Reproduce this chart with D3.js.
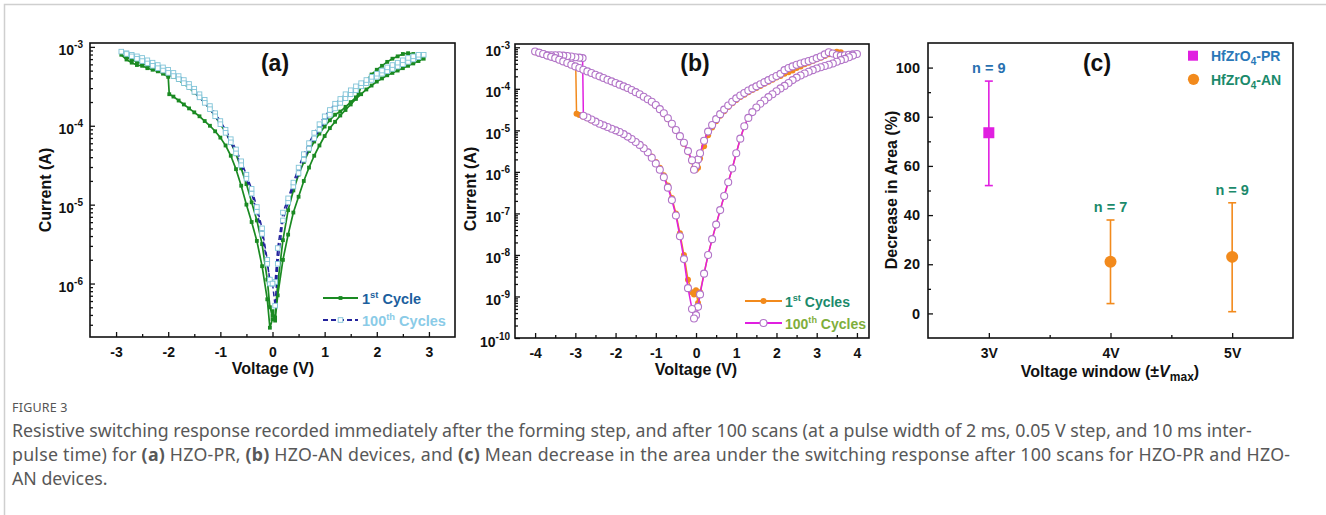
<!DOCTYPE html>
<html>
<head>
	<meta charset="utf-8">
	<title>Figure 3</title>
	<script src="https://cdn.jsdelivr.net/npm/d3@7"></script>
	<style>
		body { margin: 0; background: #fff; }
		svg { display: block; font-family: Arial, "Liberation Sans", sans-serif; }
	</style>
</head>
<body>
<div id="chart"></div>
<script>

	// data : sweeps are [voltage (V), log10 current (A)] in measured order

	// (a) HZO-PR, 1st cycle
	const prFirst = [
		[0,-6.35],[0.05,-6.47],[0.1,-6.15],[0.2,-5.7],[0.3,-5.38],[0.4,-5.1],[0.5,-4.9],[0.6,-4.7],[0.7,-4.53],[0.8,-4.38],
		[0.9,-4.25],[1.0,-4.13],[1.1,-4.03],[1.2,-3.95],[1.3,-3.87],[1.4,-3.8],[1.5,-3.73],[1.6,-3.66],[1.7,-3.6],[1.8,-3.54],
		[1.9,-3.49],[2.0,-3.44],[2.1,-3.4],[2.2,-3.36],[2.3,-3.33],[2.4,-3.3],[2.5,-3.27],[2.6,-3.24],[2.7,-3.21],[2.8,-3.18],[2.9,-3.15],
		[2.8,-3.12],[2.7,-3.09],[2.6,-3.08],[2.5,-3.09],[2.4,-3.12],[2.3,-3.15],[2.2,-3.19],[2.1,-3.24],[2.0,-3.29],[1.9,-3.35],
		[1.8,-3.42],[1.7,-3.5],[1.65,-3.6],[1.6,-3.64],[1.5,-3.7],[1.4,-3.76],[1.3,-3.82],[1.2,-3.86],[1.1,-3.93],[1.0,-4.01],
		[0.9,-4.1],[0.8,-4.2],[0.7,-4.32],[0.6,-4.46],[0.5,-4.62],[0.4,-4.82],[0.3,-5.07],[0.2,-5.45],[0.1,-6.0],[0.05,-6.43],[0,-6.4],
		[-0.05,-6.3],[-0.1,-5.95],[-0.2,-5.5],[-0.3,-5.2],[-0.4,-4.97],[-0.5,-4.74],[-0.6,-4.54],[-0.7,-4.36],[-0.8,-4.21],[-0.9,-4.08],
		[-1.0,-3.98],[-1.1,-3.88],[-1.2,-3.79],[-1.3,-3.71],[-1.4,-3.64],[-1.5,-3.58],[-1.6,-3.52],[-1.7,-3.47],[-1.8,-3.42],[-1.9,-3.38],
		[-2.0,-3.35],[-2.1,-3.32],[-2.2,-3.29],[-2.3,-3.26],[-2.4,-3.24],[-2.5,-3.21],[-2.6,-3.19],[-2.7,-3.16],[-2.8,-3.13],[-2.9,-3.1],
		[-2.8,-3.16],[-2.7,-3.2],[-2.6,-3.23],[-2.5,-3.24],[-2.4,-3.27],[-2.3,-3.29],[-2.2,-3.31],[-2.1,-3.34],[-2.0,-3.38],[-1.98,-3.6],
		[-1.9,-3.63],[-1.8,-3.68],[-1.7,-3.73],[-1.6,-3.78],[-1.5,-3.83],[-1.4,-3.88],[-1.3,-3.94],[-1.2,-4.0],[-1.1,-4.07],[-1.0,-4.15],
		[-0.9,-4.25],[-0.8,-4.38],[-0.7,-4.55],[-0.6,-4.76],[-0.5,-5.0],[-0.4,-5.22],[-0.3,-5.46],[-0.2,-5.78],[-0.1,-6.2],[-0.05,-6.56],[0,-6.45]
	];

	// (a) HZO-PR, 100th cycle
	const pr100 = [
		[0,-6.0],[0.05,-6.28],[0.1,-5.75],[0.2,-5.2],[0.3,-4.97],[0.4,-4.77],[0.5,-4.6],[0.6,-4.43],[0.7,-4.29],[0.8,-4.16],
		[0.9,-4.05],[1.0,-3.95],[1.1,-3.86],[1.2,-3.78],[1.3,-3.71],[1.4,-3.65],[1.5,-3.6],[1.6,-3.55],[1.7,-3.5],[1.8,-3.46],
		[1.9,-3.42],[2.0,-3.38],[2.1,-3.34],[2.2,-3.31],[2.3,-3.28],[2.4,-3.25],[2.5,-3.22],[2.6,-3.19],[2.7,-3.16],[2.8,-3.13],[2.9,-3.1],
		[2.8,-3.1],[2.7,-3.12],[2.6,-3.14],[2.5,-3.17],[2.4,-3.2],[2.3,-3.23],[2.2,-3.26],[2.1,-3.3],[2.0,-3.34],[1.9,-3.38],
		[1.8,-3.42],[1.7,-3.46],[1.6,-3.5],[1.5,-3.55],[1.4,-3.6],[1.3,-3.66],[1.2,-3.72],[1.1,-3.8],[1.0,-3.88],[0.9,-3.98],
		[0.8,-4.09],[0.7,-4.22],[0.6,-4.36],[0.5,-4.53],[0.4,-4.72],[0.3,-4.92],[0.2,-5.1],[0.1,-5.55],[0.05,-5.98],[0,-6.0],
		[-0.05,-6.0],[-0.1,-5.7],[-0.2,-5.3],[-0.3,-5.03],[-0.4,-4.8],[-0.5,-4.62],[-0.6,-4.45],[-0.7,-4.3],[-0.8,-4.17],[-0.9,-4.05],
		[-1.0,-3.94],[-1.1,-3.84],[-1.2,-3.75],[-1.3,-3.67],[-1.4,-3.6],[-1.5,-3.53],[-1.6,-3.47],[-1.7,-3.42],[-1.8,-3.37],[-1.9,-3.33],
		[-2.0,-3.29],[-2.1,-3.26],[-2.2,-3.23],[-2.3,-3.2],[-2.4,-3.17],[-2.5,-3.14],[-2.6,-3.12],[-2.7,-3.1],[-2.8,-3.08],[-2.9,-3.06],
		[-2.8,-3.09],[-2.7,-3.12],[-2.6,-3.15],[-2.5,-3.18],[-2.4,-3.21],[-2.3,-3.24],[-2.2,-3.27],[-2.1,-3.3],[-2.0,-3.33],[-1.9,-3.37],
		[-1.8,-3.41],[-1.7,-3.46],[-1.6,-3.51],[-1.5,-3.57],[-1.4,-3.64],[-1.3,-3.71],[-1.2,-3.79],[-1.1,-3.88],[-1.0,-3.98],[-0.9,-4.09],
		[-0.8,-4.21],[-0.7,-4.35],[-0.6,-4.5],[-0.5,-4.67],[-0.4,-4.86],[-0.3,-5.09],[-0.2,-5.37],[-0.1,-5.75],[-0.05,-5.95],[0,-6.0]
	];

	// (b) HZO-AN, 1st cycle
	const anFirst = [
		[0.05,-5.9],[0.1,-5.68],[0.2,-5.38],[0.3,-5.12],[0.4,-4.93],[0.5,-4.78],[0.6,-4.65],[0.7,-4.54],[0.8,-4.44],[0.9,-4.35],
		[1.0,-4.27],[1.1,-4.2],[1.2,-4.14],[1.3,-4.08],[1.4,-4.03],[1.5,-3.98],[1.6,-3.93],[1.7,-3.88],[1.8,-3.83],[1.9,-3.78],
		[2.0,-3.73],[2.1,-3.69],[2.2,-3.64],[2.3,-3.6],[2.4,-3.56],[2.5,-3.5],[2.6,-3.46],[2.7,-3.41],[2.8,-3.37],[2.9,-3.33],
		[3.0,-3.29],[3.1,-3.25],[3.2,-3.21],[3.3,-3.17],[3.4,-3.13],[3.5,-3.11],[3.6,-3.12],[3.65,-3.2],[3.7,-3.21],[3.8,-3.2],[3.9,-3.18],[4.0,-3.16],
		[3.9,-3.2],[3.8,-3.24],[3.7,-3.28],[3.6,-3.31],[3.5,-3.35],[3.4,-3.39],[3.3,-3.42],[3.2,-3.45],[3.1,-3.48],[3.0,-3.51],
		[2.9,-3.55],[2.8,-3.59],[2.7,-3.63],[2.6,-3.68],[2.5,-3.73],[2.4,-3.79],[2.3,-3.86],[2.2,-3.93],[2.1,-3.99],[2.0,-4.06],
		[1.9,-4.13],[1.8,-4.2],[1.7,-4.28],[1.6,-4.36],[1.5,-4.45],[1.4,-4.56],[1.3,-4.7],[1.2,-4.9],[1.1,-5.2],[1.0,-5.55],
		[0.9,-5.92],[0.8,-6.25],[0.7,-6.58],[0.6,-6.92],[0.5,-7.27],[0.4,-7.62],[0.3,-8.0],[0.2,-8.45],[0.1,-8.9],[0.05,-9.16],[0,-8.85],
		[-0.05,-8.95],[-0.1,-8.9],[-0.2,-8.6],[-0.3,-8.0],[-0.4,-7.48],[-0.5,-7.0],[-0.6,-6.63],[-0.7,-6.33],[-0.8,-6.08],[-0.9,-5.9],
		[-1.0,-5.76],[-1.1,-5.63],[-1.2,-5.51],[-1.3,-5.41],[-1.4,-5.34],[-1.5,-5.27],[-1.6,-5.21],[-1.7,-5.15],[-1.8,-5.1],[-1.9,-5.05],
		[-2.0,-5.01],[-2.1,-4.97],[-2.2,-4.93],[-2.3,-4.89],[-2.4,-4.85],[-2.5,-4.8],[-2.6,-4.76],[-2.7,-4.71],[-2.8,-4.67],[-2.9,-4.63],
		[-2.97,-4.6],[-2.99,-3.46],[-3.1,-3.42],[-3.2,-3.38],[-3.3,-3.34],[-3.4,-3.3],[-3.5,-3.26],[-3.6,-3.23],[-3.7,-3.2],[-3.8,-3.17],[-3.9,-3.14],[-4.0,-3.12],
		[-3.9,-3.15],[-3.8,-3.18],[-3.7,-3.21],[-3.6,-3.24],[-3.5,-3.27],[-3.4,-3.31],[-3.3,-3.35],[-3.2,-3.39],[-3.1,-3.43],[-3.0,-3.47],
		[-2.9,-3.51],[-2.8,-3.55],[-2.7,-3.59],[-2.6,-3.63],[-2.5,-3.67],[-2.4,-3.71],[-2.3,-3.75],[-2.2,-3.79],[-2.1,-3.83],[-2.0,-3.87],
		[-1.9,-3.91],[-1.8,-3.95],[-1.7,-4.0],[-1.6,-4.04],[-1.5,-4.09],[-1.4,-4.14],[-1.3,-4.2],[-1.2,-4.26],[-1.1,-4.33],[-1.0,-4.41],
		[-0.9,-4.5],[-0.8,-4.61],[-0.7,-4.73],[-0.6,-4.86],[-0.5,-5.01],[-0.4,-5.16],[-0.3,-5.33],[-0.2,-5.52],[-0.1,-5.75],[-0.05,-5.9],[0,-5.95]
	];

	// (b) HZO-AN, 100th cycle
	const an100 = [
		[0,-5.85],[0.05,-5.7],[0.1,-5.55],[0.2,-5.25],[0.3,-5.03],[0.4,-4.87],[0.5,-4.73],[0.6,-4.61],[0.7,-4.5],[0.8,-4.4],
		[0.9,-4.31],[1.0,-4.23],[1.1,-4.16],[1.2,-4.1],[1.3,-4.04],[1.4,-3.99],[1.5,-3.94],[1.6,-3.89],[1.7,-3.84],[1.8,-3.79],
		[1.9,-3.74],[2.0,-3.69],[2.1,-3.64],[2.2,-3.55],[2.3,-3.5],[2.4,-3.46],[2.5,-3.42],[2.6,-3.39],[2.7,-3.36],[2.8,-3.33],
		[2.9,-3.3],[3.0,-3.26],[3.1,-3.22],[3.2,-3.17],[3.3,-3.12],[3.4,-3.15],[3.5,-3.19],[3.6,-3.2],[3.7,-3.19],[3.8,-3.18],[3.9,-3.17],[4.0,-3.16],
		[3.9,-3.2],[3.8,-3.24],[3.7,-3.28],[3.6,-3.31],[3.5,-3.35],[3.4,-3.39],[3.3,-3.42],[3.2,-3.45],[3.1,-3.48],[3.0,-3.51],
		[2.9,-3.55],[2.8,-3.59],[2.7,-3.63],[2.6,-3.68],[2.5,-3.73],[2.4,-3.79],[2.3,-3.86],[2.2,-3.93],[2.1,-3.99],[2.0,-4.06],
		[1.9,-4.13],[1.8,-4.2],[1.7,-4.28],[1.6,-4.36],[1.5,-4.45],[1.4,-4.56],[1.3,-4.7],[1.2,-4.9],[1.1,-5.2],[1.0,-5.55],
		[0.9,-5.92],[0.8,-6.25],[0.7,-6.58],[0.6,-6.92],[0.5,-7.27],[0.4,-7.62],[0.3,-8.0],[0.2,-8.45],[0.1,-8.95],[0.05,-9.25],[0,-9.45],
		[-0.05,-9.53],[-0.1,-9.3],[-0.2,-8.8],[-0.3,-8.1],[-0.4,-7.55],[-0.5,-7.05],[-0.6,-6.68],[-0.7,-6.38],[-0.8,-6.13],[-0.9,-5.95],
		[-1.0,-5.8],[-1.1,-5.66],[-1.2,-5.53],[-1.3,-5.43],[-1.4,-5.35],[-1.5,-5.28],[-1.6,-5.21],[-1.7,-5.15],[-1.8,-5.09],[-1.9,-5.04],
		[-2.0,-5.0],[-2.1,-4.96],[-2.2,-4.92],[-2.3,-4.88],[-2.4,-4.84],[-2.5,-4.79],[-2.6,-4.74],[-2.7,-4.69],[-2.8,-4.65],
		[-2.82,-3.26],[-2.9,-3.25],[-3.0,-3.24],[-3.1,-3.22],[-3.2,-3.21],[-3.3,-3.2],[-3.4,-3.19],[-3.5,-3.19],[-3.6,-3.19],[-3.7,-3.19],
		[-3.8,-3.16],[-3.9,-3.13],[-4.0,-3.1],
		[-3.9,-3.13],[-3.8,-3.16],[-3.7,-3.2],[-3.6,-3.23],[-3.5,-3.26],[-3.4,-3.3],[-3.3,-3.34],[-3.2,-3.38],[-3.1,-3.42],[-3.0,-3.46],
		[-2.9,-3.5],[-2.8,-3.54],[-2.7,-3.58],[-2.6,-3.62],[-2.5,-3.66],[-2.4,-3.7],[-2.3,-3.74],[-2.2,-3.78],[-2.1,-3.82],[-2.0,-3.86],
		[-1.9,-3.9],[-1.8,-3.94],[-1.7,-3.98],[-1.6,-4.03],[-1.5,-4.08],[-1.4,-4.13],[-1.3,-4.19],[-1.2,-4.25],[-1.1,-4.31],[-1.0,-4.39],
		[-0.9,-4.49],[-0.8,-4.59],[-0.7,-4.71],[-0.6,-4.84],[-0.5,-4.99],[-0.4,-5.14],[-0.3,-5.3],[-0.2,-5.5],[-0.1,-5.72],[-0.05,-5.95]
	];

	// (c) mean decrease in area, with error bar limits
	const windowLabels = ["3V", "4V", "5V"];
	const windowVolts  = [3, 4, 5];
	const prWindow = [3];
	const prMean   = [73.5];
	const prLow    = [52];
	const prHigh   = [94.5];
	const prCount  = [9];
	const anWindow = [4, 5];
	const anMean   = [21, 23];
	const anLow    = [4, 0.7];
	const anHigh   = [38, 45];
	const anCount  = [7, 9];

	const captionLines = [
		"Resistive switching response recorded immediately after the forming step, and after 100 scans (at a pulse width of 2 ms, 0.05 V step, and 10 ms inter-",
		"pulse time) for |(a)| HZO-PR, |(b)| HZO-AN devices, and |(c)| Mean decrease in the area under the switching response after 100 scans for HZO-PR and HZO-",
		"AN devices."
	];

	// layout

	const width  = 1326;
	const height = 515;
	const ink    = "#111";

	const svg = d3.select("#chart").append("svg")
		.attr("width", width)
		.attr("height", height)
		.attr("viewBox", [0, 0, width, height]);

	svg.append("rect").attr("width", width).attr("height", height).attr("fill", "#fff");
	svg.append("path").attr("d", `M4.5,${height}V4.5H${width}`)
		.attr("fill", "none").attr("stroke", "#cfcfcf").attr("stroke-width", 1.5);

	function styleAxis(g, size) {
		g.select(".domain").remove();
		g.selectAll(".tick line").attr("stroke", ink).attr("stroke-width", 1.3);
		g.selectAll(".tick text").attr("fill", ink).attr("font-size", size).attr("font-weight", "bold");
	}

	function xAxis(p, x, majors, minors, fmt) {
		svg.append("g").attr("transform", `translate(0,${p.bottom})`)
			.call(d3.axisBottom(x).tickValues(minors).tickSize(-3).tickFormat(""))
			.call(g => styleAxis(g, 14));
		svg.append("g").attr("transform", `translate(0,${p.bottom})`)
			.call(d3.axisBottom(x).tickValues(majors).tickSize(-5).tickPadding(10).tickFormat(fmt))
			.call(g => styleAxis(g, 14));
	}

	function logYAxis(p, y, pad) {
		const [lo, hi] = y.domain();
		const majors = [], minors = [];
		for (let k = Math.floor(Math.log10(lo)); k <= Math.ceil(Math.log10(hi)); k++) {
			const base = Math.pow(10, k);
			if (base >= lo * 0.999 && base <= hi) majors.push(base);
			for (let m = 2; m < 10; m++) if (m * base >= lo && m * base <= hi) minors.push(m * base);
		}
		svg.append("g").attr("transform", `translate(${p.left},0)`)
			.call(d3.axisLeft(y).tickValues(minors).tickSize(-3).tickFormat(""))
			.call(g => styleAxis(g, 14));
		svg.append("g").attr("transform", `translate(${p.left},0)`)
			.call(d3.axisLeft(y).tickValues(majors).tickSize(-5).tickPadding(pad))
			.call(g => styleAxis(g, 14))
			.call(g => g.selectAll(".tick text").each(function (d) {
				const t = d3.select(this).text(null).attr("dy", null).attr("y", 8);
				t.append("tspan").text("10");
				t.append("tspan").attr("dy", -7).attr("font-size", 10).text(Math.round(Math.log10(d)));
			}));
	}

	function frame(p) {
		svg.append("rect")
			.attr("x", p.left).attr("y", p.top)
			.attr("width", p.right - p.left).attr("height", p.bottom - p.top)
			.attr("fill", "none").attr("stroke", ink).attr("stroke-width", 1.6);
	}

	function title(text, x, y, rotate) {
		return svg.append("text")
			.attr("transform", `translate(${x},${y})` + (rotate ? " rotate(-90)" : ""))
			.attr("text-anchor", "middle")
			.attr("font-size", 16).attr("font-weight", "bold").attr("fill", ink)
			.text(text);
	}

	function panelTag(text, x, y) {
		svg.append("text").attr("x", x).attr("y", y).attr("text-anchor", "middle")
			.attr("font-size", 23).attr("font-weight", "bold").attr("fill", ink).text(text);
	}

	function legendText(x, y, color, base, sup, rest, size) {
		const t = svg.append("text").attr("x", x).attr("y", y)
			.attr("font-size", size).attr("font-weight", "bold").attr("fill", color);
		t.append("tspan").text(base);
		t.append("tspan").attr("dy", -6).attr("font-size", size * 0.65).text(sup);
		t.append("tspan").attr("dy", 6).text(rest);
	}

	function sweep(x, y, data, opt) {
		const line = d3.line().x(d => x(d[0])).y(d => y(Math.pow(10, d[1])));
		svg.append("path")
			.attr("d", line(data))
			.attr("fill", "none")
			.attr("stroke", opt.line)
			.attr("stroke-width", opt.width || 1.5)
			.attr("stroke-dasharray", opt.dash || null)
			.attr("stroke-linejoin", "round");
		const g = svg.append("g");
		if (opt.shape === "square") {
			g.selectAll("rect").data(data).join("rect")
				.attr("x", d => x(d[0]) - opt.size / 2)
				.attr("y", d => y(Math.pow(10, d[1])) - opt.size / 2)
				.attr("width", opt.size).attr("height", opt.size)
				.attr("fill", opt.fill).attr("stroke", opt.stroke || "none").attr("stroke-width", 0.9);
		} else {
			g.selectAll("circle").data(data).join("circle")
				.attr("cx", d => x(d[0]))
				.attr("cy", d => y(Math.pow(10, d[1])))
				.attr("r", opt.size / 2)
				.attr("fill", opt.fill).attr("stroke", opt.stroke || "none").attr("stroke-width", 1.1);
		}
	}

	function legendLine(x0, x1, y, opt) {
		svg.append("line").attr("x1", x0).attr("x2", x1).attr("y1", y).attr("y2", y)
			.attr("stroke", opt.line).attr("stroke-width", 1.8).attr("stroke-dasharray", opt.dash || null);
		const xm = (x0 + x1) / 2;
		if (opt.shape === "square") {
			svg.append("rect").attr("x", xm - opt.size / 2).attr("y", y - opt.size / 2)
				.attr("width", opt.size).attr("height", opt.size)
				.attr("fill", opt.fill).attr("stroke", opt.stroke || "none").attr("stroke-width", 0.9);
		} else {
			svg.append("circle").attr("cx", xm).attr("cy", y).attr("r", opt.size / 2)
				.attr("fill", opt.fill).attr("stroke", opt.stroke || "none").attr("stroke-width", 1.1);
		}
	}

	const plainNumber = d => String(d);

	// (a)

	const pA = { left: 90, right: 455, top: 43, bottom: 337 };
	const xA = d3.scaleLinear([-3.5, 3.5], [pA.left, pA.right]);
	const yA = d3.scaleLog([2.1e-7, 1.12e-3], [pA.bottom, pA.top]);
	const greenStyle = { line: "#1a8a22", width: 1.7, shape: "square", size: 3.8, fill: "#1a8a22" };
	const blueStyle  = { line: "#22229c", dash: "5,3", shape: "square", size: 4.6, fill: "#fff", stroke: "#80c4d8" };

	xAxis(pA, xA, [-3, -2, -1, 0, 1, 2, 3], [-2.5, -1.5, -0.5, 0.5, 1.5, 2.5], plainNumber);
	logYAxis(pA, yA, 7);
	sweep(xA, yA, prFirst, greenStyle);
	sweep(xA, yA, pr100, blueStyle);
	frame(pA);
	title("Current (A)", 51, 190, true);
	title("Voltage (V)", 273, 374);
	panelTag("(a)", 275, 71);
	legendLine(323, 358, 298, greenStyle);
	legendLine(323, 358, 320, blueStyle);
	legendText(362, 303.5, "#1c5f9e", "1", "st", " Cycle", 14.5);
	legendText(362, 325.5, "#8acbe7", "100", "th", " Cycles", 14.5);

	// (b)

	const pB = { left: 515, right: 869, top: 44, bottom: 338 };
	const xB = d3.scaleLinear([-4.5, 4.3], [pB.left, pB.right]);
	const yB = d3.scaleLog([1e-10, 1.2e-3], [pB.bottom, pB.top]);
	const orangeStyle  = { line: "#f28a1c", shape: "circle", size: 6, fill: "#f28a1c" };
	const magentaStyle = { line: "#e01fe0", shape: "circle", size: 7, fill: "#fff", stroke: "#b274c8" };

	xAxis(pB, xB, [-4, -3, -2, -1, 0, 1, 2, 3, 4], [-3.5, -2.5, -1.5, -0.5, 0.5, 1.5, 2.5, 3.5], plainNumber);
	logYAxis(pB, yB, 5);
	sweep(xB, yB, anFirst, orangeStyle);
	sweep(xB, yB, an100, magentaStyle);
	frame(pB);
	title("Current (A)", 476, 189, true);
	title("Voltage (V)", 696, 375);
	panelTag("(b)", 695, 71);
	legendLine(745, 782, 301, orangeStyle);
	legendLine(745, 782, 323, magentaStyle);
	legendText(785, 306.5, "#1b8a6b", "1", "st", " Cycles", 14);
	legendText(785, 328.5, "#7fae3c", "100", "th", " Cycles", 14);

	// (c)

	const pC = { left: 928, right: 1293, top: 43, bottom: 338 };
	const xC = d3.scaleLinear([2.5, 5.5], [pC.left, pC.right]);
	const yC = d3.scaleLinear([-10, 110], [pC.bottom, pC.top]);

	xAxis(pC, xC, windowVolts, [3.5, 4.5], (d, i) => windowLabels[i]);
	svg.append("g").attr("transform", `translate(${pC.left},0)`)
		.call(d3.axisLeft(yC).tickValues([10, 30, 50, 70, 90]).tickSize(-3).tickFormat(""))
		.call(g => styleAxis(g, 14));
	svg.append("g").attr("transform", `translate(${pC.left},0)`)
		.call(d3.axisLeft(yC).tickValues([0, 20, 40, 60, 80, 100]).tickSize(-5).tickPadding(8))
		.call(g => styleAxis(g, 14.5));

	function errorSeries(xs, mean, low, high, count, color, labelColor, shape) {
		const g = svg.append("g");
		xs.forEach((v, i) => {
			const cx = xC(v);
			g.append("line").attr("x1", cx).attr("x2", cx).attr("y1", yC(low[i])).attr("y2", yC(high[i]))
				.attr("stroke", color).attr("stroke-width", 1.6);
			[low[i], high[i]].forEach(e => g.append("line")
				.attr("x1", cx - 4).attr("x2", cx + 4).attr("y1", yC(e)).attr("y2", yC(e))
				.attr("stroke", color).attr("stroke-width", 1.6));
			if (shape === "square") {
				g.append("rect").attr("x", cx - 5.5).attr("y", yC(mean[i]) - 5.5)
					.attr("width", 11).attr("height", 11).attr("fill", color);
			} else {
				g.append("circle").attr("cx", cx).attr("cy", yC(mean[i])).attr("r", 6).attr("fill", color);
			}
			g.append("text").attr("x", cx).attr("y", yC(high[i]) - 8).attr("text-anchor", "middle")
				.attr("font-size", 14.5).attr("font-weight", "bold").attr("fill", labelColor)
				.text(`n = ${count[i]}`);
		});
	}

	errorSeries(prWindow, prMean, prLow, prHigh, prCount, "#e01fe0", "#2870b0", "square");
	errorSeries(anWindow, anMean, anLow, anHigh, anCount, "#f28a1c", "#1b8a6b", "circle");
	frame(pC);
	title("Decrease in Area (%)", 897, 190, true);

	const xt = svg.append("text").attr("x", 1110).attr("y", 377).attr("text-anchor", "middle")
		.attr("font-size", 16).attr("font-weight", "bold").attr("fill", ink);
	xt.append("tspan").text("Voltage window (\u00b1");
	xt.append("tspan").attr("font-style", "italic").text("V");
	xt.append("tspan").attr("dy", 4).attr("font-size", 12).text("max");
	xt.append("tspan").attr("dy", -4).text(")");

	panelTag("(c)", 1097, 71);

	svg.append("rect").attr("x", 1188).attr("y", 50.7).attr("width", 10).attr("height", 10).attr("fill", "#e01fe0");
	svg.append("circle").attr("cx", 1193.5).attr("cy", 79.3).attr("r", 5.6).attr("fill", "#f28a1c");
	[["HfZrO", "4", "-PR", "#2a78b8", 61], ["HfZrO", "4", "-AN", "#1b8a6b", 84.5]].forEach(([a, s, b, c, y]) => {
		const t = svg.append("text").attr("x", 1211).attr("y", y)
			.attr("font-size", 14).attr("font-weight", "bold").attr("fill", c);
		t.append("tspan").text(a);
		t.append("tspan").attr("dy", 4).attr("font-size", 10).text(s);
		t.append("tspan").attr("dy", -4).text(b);
	});

	// caption

	const captionFont = "'Noto Sans', 'Open Sans', sans-serif";
	svg.append("text").attr("x", 12).attr("y", 412)
		.attr("font-family", captionFont)
		.attr("font-size", 12.5).attr("fill", "#555").attr("letter-spacing", 0.2)
		.text("FIGURE 3");

	const captionTexts = captionLines.map((line, i) => {
		const t = svg.append("text").attr("x", 12).attr("y", 437 + i * 24)
			.attr("font-family", captionFont)
			.attr("font-size", 15).attr("fill", "#585858");
		line.split("|").forEach((part, j) => {
			t.append("tspan").attr("font-weight", j % 2 ? "bold" : null).text(part);
		});
		return t;
	});
	// fit the first line to its width in the figure, same size for the rest
	const captionSize = 15 * 1240 / captionTexts[0].node().getComputedTextLength();
	captionTexts.forEach(t => t.attr("font-size", captionSize));
	captionTexts[1].attr("textLength", 1278).attr("lengthAdjust", "spacing");

</script>
</body>
</html>
